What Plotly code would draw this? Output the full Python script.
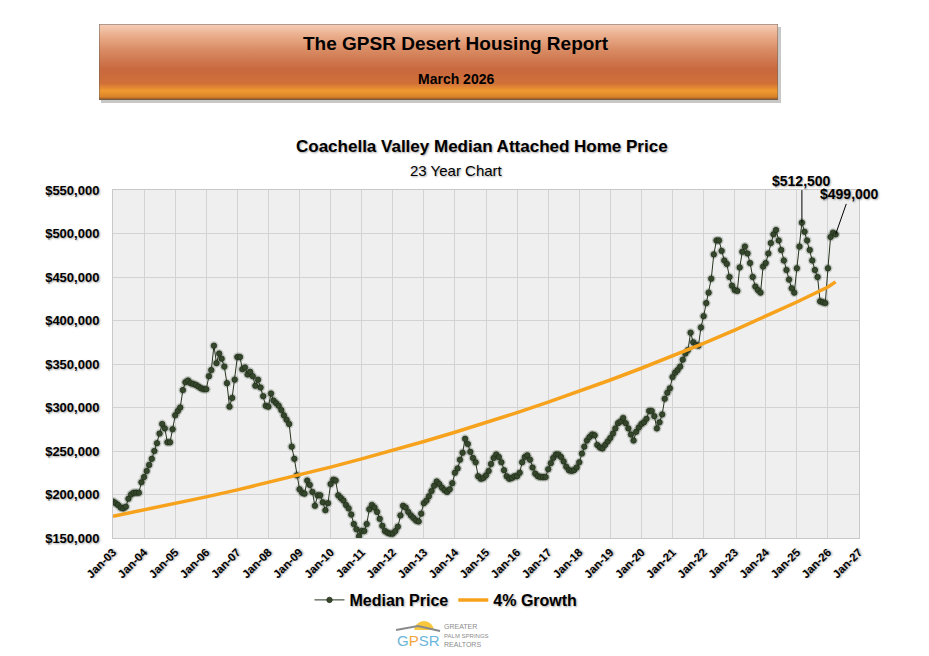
import pandas as pd
import plotly.graph_objects as go

# the page body has an 8px margin, so the figure is drawn from (8, 8)
OFF = 8
W, H = 929 - OFF, 656 - OFF

# Median attached home price, one value per month starting Jan 2003
median_price = [
    192000, 190000, 188000, 185000, 184000, 186000, 195000, 200000, 202000, 202000, 202000, 214000,  # 2003
    220000, 227000, 234000, 241000, 250000, 259000, 270000, 281000, 276000, 260000, 260000, 275000,  # 2004
    291000, 296000, 300000, 320000, 329000, 331000, 328000, 327000, 326000, 324000, 322000, 321000,  # 2005
    321000, 336000, 343000, 371000, 351000, 362000, 356000, 347000, 328000, 301000, 311000, 332000,  # 2006
    358000, 358000, 344000, 346000, 338000, 341000, 336000, 325000, 332000, 323000, 313000, 302000,  # 2007
    301000, 316000, 308000, 305000, 302000, 297000, 291000, 286000, 281000, 255000, 241000, 222000,  # 2008
    206000, 202000, 201000, 216000, 211000, 203000, 187000, 199000, 199000, 191000, 182000, 190000,  # 2009
    212000, 217000, 216000, 199000, 196000, 193000, 188000, 184000, 177000, 166000, 160000, 152000,  # 2010
    158000, 158000, 166000, 183000, 188000, 185000, 180000, 172000, 164000, 158000, 156000, 155000,  # 2011
    155000, 158000, 163000, 176000, 187000, 185000, 180000, 176000, 173000, 170000, 169000, 178000,  # 2012
    190000, 193000, 198000, 204000, 210000, 215000, 212000, 208000, 205000, 203000, 206000, 213000,  # 2013
    225000, 230000, 240000, 248000, 264000, 258000, 249000, 242000, 237000, 221000, 218000, 219000,  # 2014
    222000, 227000, 235000, 242000, 246000, 243000, 237000, 228000, 221000, 218000, 219000, 221000,  # 2015
    221000, 225000, 237000, 243000, 245000, 240000, 231000, 224000, 221000, 220000, 220000, 220000,  # 2016
    229000, 236000, 242000, 246000, 246000, 243000, 238000, 232000, 228000, 227000, 228000, 231000,  # 2017
    237000, 247000, 255000, 262000, 266000, 269000, 268000, 257000, 254000, 253000, 257000, 261000,  # 2018
    265000, 270000, 276000, 282000, 284000, 288000, 282000, 276000, 269000, 262000, 272000, 277000,  # 2019
    281000, 283000, 287000, 296000, 296000, 290000, 276000, 283000, 292000, 310000, 317000, 322000,  # 2020
    335000, 340000, 343000, 347000, 355000, 362000, 366000, 386000, 375000, 372000, 371000, 392000,  # 2021
    405000, 420000, 432000, 448000, 476000, 492000, 492000, 480000, 469000, 465000, 450000, 440000,  # 2022
    435000, 434000, 461000, 479000, 485000, 477000, 466000, 450000, 439000, 435000, 432000, 462000,  # 2023
    466000, 477000, 489000, 499000, 504000, 492000, 481000, 469000, 458000, 447000, 437000, 432000,  # 2024
    460000, 485000, 512500, 502000, 492000, 481000, 469000, 458000, 450000, 422000, 421000, 420000,  # 2025
    460000, 496000, 501000, 499000,  # 2026
]

# 4% growth reference line, read at each January plus the last month
growth_dates = [f"{y}-01-01" for y in range(2003, 2027)] + ["2026-04-01"]
growth_values = [
    175000, 182100, 189500, 197300, 205300, 213700, 222400, 231500,
    240900, 250700, 260900, 271600, 282600, 294100, 306100, 318600,
    331600, 345100, 359100, 373800, 389000, 404800, 421300, 438500, 444400,
]

price_ticks = [150000, 200000, 250000, 300000, 350000, 400000, 450000, 500000, 550000]

months = pd.date_range("2003-01-01", periods=len(median_price), freq="MS")

FONT = "Arial, 'Liberation Sans', sans-serif"
SHADOW = "1px 1px 2px rgba(0,0,0,0.35)"


def px(x):
    # window pixel -> paper x
    return (x - OFF) / W


def py(y):
    # window pixel -> paper y
    return 1 - (y - OFF) / H


def note(x, y, text, font, xanchor="center", align="center"):
    return dict(x=px(x), y=py(y), xref="paper", yref="paper", showarrow=False,
                xanchor=xanchor, yanchor="middle", align=align, text=text, font=font)


fig = go.Figure()

# soft glow under the markers (Excel style)
fig.add_trace(go.Scatter(
    x=months, y=median_price, mode="markers",
    marker=dict(size=9, color="rgba(45,65,38,0.22)"),
    hoverinfo="skip", showlegend=False,
))
fig.add_trace(go.Scatter(
    x=months, y=median_price, name="Median Price", mode="lines+markers",
    line=dict(color="#26341e", width=1),
    marker=dict(size=5.5, color="#34472b", line=dict(color="#1f2b18", width=0.7)),
))
fig.add_trace(go.Scatter(
    x=growth_dates, y=growth_values, name="4% Growth", mode="lines",
    line=dict(color="#f6a21c", width=3.5),
))

# header banner with vertical gradient
banner_scale = [
    [0.00, "#7a4a22"], [0.04, "#d9822a"], [0.12, "#f09a30"], [0.22, "#d07038"],
    [0.40, "#c8683e"], [0.65, "#d88a62"], [0.85, "#eaae8c"], [1.00, "#f5cfb8"],
]
fig.add_trace(go.Scatter(
    x=[0, 1, 1, 0, 0], y=[0, 0, 1, 1, 0], xaxis="x2", yaxis="y2",
    mode="lines", fill="toself",
    line=dict(color="#6f6660", width=1),
    fillgradient=dict(type="vertical", colorscale=banner_scale),
    hoverinfo="skip", showlegend=False,
))

# annotate peak and latest values
peak_i = median_price.index(max(median_price))
value_font = dict(family=FONT, size=14, color="#000", weight="bold", shadow=SHADOW)
annotations = [
    dict(x=months[peak_i], y=median_price[peak_i], xref="x", yref="y",
         text=f"${median_price[peak_i]:,.0f}", showarrow=True, arrowhead=0,
         arrowwidth=1, arrowcolor="#000", ax=0, ay=-42, standoff=0, font=value_font),
    dict(x=months[-1], y=median_price[-1], xref="x", yref="y",
         text=f"${median_price[-1]:,.0f}", showarrow=True, arrowhead=0,
         arrowwidth=1, arrowcolor="#000", ax=14, ay=-40, standoff=0, font=value_font),
    # banner texts
    note(456, 43, "The GPSR Desert Housing Report",
         dict(family=FONT, size=19, color="#000", weight="bold")),
    note(456, 79, "March 2026",
         dict(family=FONT, size=14, color="#000", weight="bold")),
    # chart titles
    note(482, 147, "Coachella Valley Median Attached Home Price",
         dict(family=FONT, size=17, color="#000", weight="bold", shadow=SHADOW)),
    note(456, 170, "23 Year Chart",
         dict(family=FONT, size=15, color="#000", shadow=SHADOW)),
    # logo text
    note(418, 640, "<span style='color:#6db6d9'>G</span><span style='color:#f2a53a'>P</span>"
                   "<span style='color:#6db6d9'>SR</span>",
         dict(family=FONT, size=15)),
    note(442, 635, "GREATER<br><span style='font-size:6px'>PALM SPRINGS</span><br>REALTORS",
         dict(family=FONT, size=7, color="#8c8c8c"), xanchor="left", align="left"),
]

shapes = [
    # banner drop shadow
    dict(type="rect", xref="paper", yref="paper", layer="below",
         x0=px(101), x1=px(781), y0=py(103), y1=py(27),
         fillcolor="rgba(0,0,0,0.22)", line=dict(width=0)),
    # logo sun and roof
    dict(type="circle", xref="paper", yref="paper",
         x0=px(414), x1=px(434), y0=py(641), y1=py(621),
         fillcolor="#f8c73c", line=dict(width=0)),
    dict(type="rect", xref="paper", yref="paper",
         x0=px(410), x1=px(438), y0=py(642), y1=py(630),
         fillcolor="#ffffff", line=dict(width=0)),
    dict(type="path", xref="paper", yref="paper",
         path=f"M {px(396)},{py(630)} L {px(418)},{py(626)} L {px(440)},{py(631)}",
         line=dict(color="#8a8a8a", width=2)),
]

fig.update_layout(
    template="none",
    width=W, height=H,
    margin=dict(l=0, r=0, t=0, b=0),
    paper_bgcolor="#ffffff",
    plot_bgcolor="#efefef",
    font=dict(family=FONT, color="#000"),
    showlegend=True,
    legend=dict(
        orientation="h", x=px(446), y=py(600), xanchor="center", yanchor="middle",
        font=dict(family=FONT, size=16, color="#000", weight="bold", shadow=SHADOW),
        bgcolor="rgba(0,0,0,0)",
    ),
    xaxis=dict(
        domain=[px(113), px(859)], anchor="y",
        type="date", range=["2003-01-01", "2027-01-01"],
        tick0="2003-01-01", dtick="M12", tickformat="%b-%y", tickangle=-45,
        showgrid=True, gridcolor="#d3d3d3", gridwidth=1,
        showline=True, linecolor="#c8c8c8", mirror=True,
        ticks="", ticklabelstandoff=2, automargin=False, zeroline=False,
        tickfont=dict(family=FONT, size=11.5, color="#000", weight="bold", shadow=SHADOW),
    ),
    yaxis=dict(
        domain=[py(538), py(190)], anchor="x",
        range=[150000, 550000], tickvals=price_ticks, tickformat="$,.0f",
        showgrid=True, gridcolor="#d3d3d3", gridwidth=1,
        showline=True, linecolor="#c8c8c8", mirror=True,
        ticks="", ticklabelstandoff=10, automargin=False, zeroline=False,
        tickfont=dict(family=FONT, size=13, color="#000", weight="bold", shadow=SHADOW),
    ),
    xaxis2=dict(domain=[px(99), px(778)], anchor="y2", range=[0, 1],
                visible=False, fixedrange=True),
    yaxis2=dict(domain=[py(100), py(24)], anchor="x2", range=[0, 1],
                visible=False, fixedrange=True),
    annotations=annotations,
    shapes=shapes,
)

fig.write_html("out.html")
